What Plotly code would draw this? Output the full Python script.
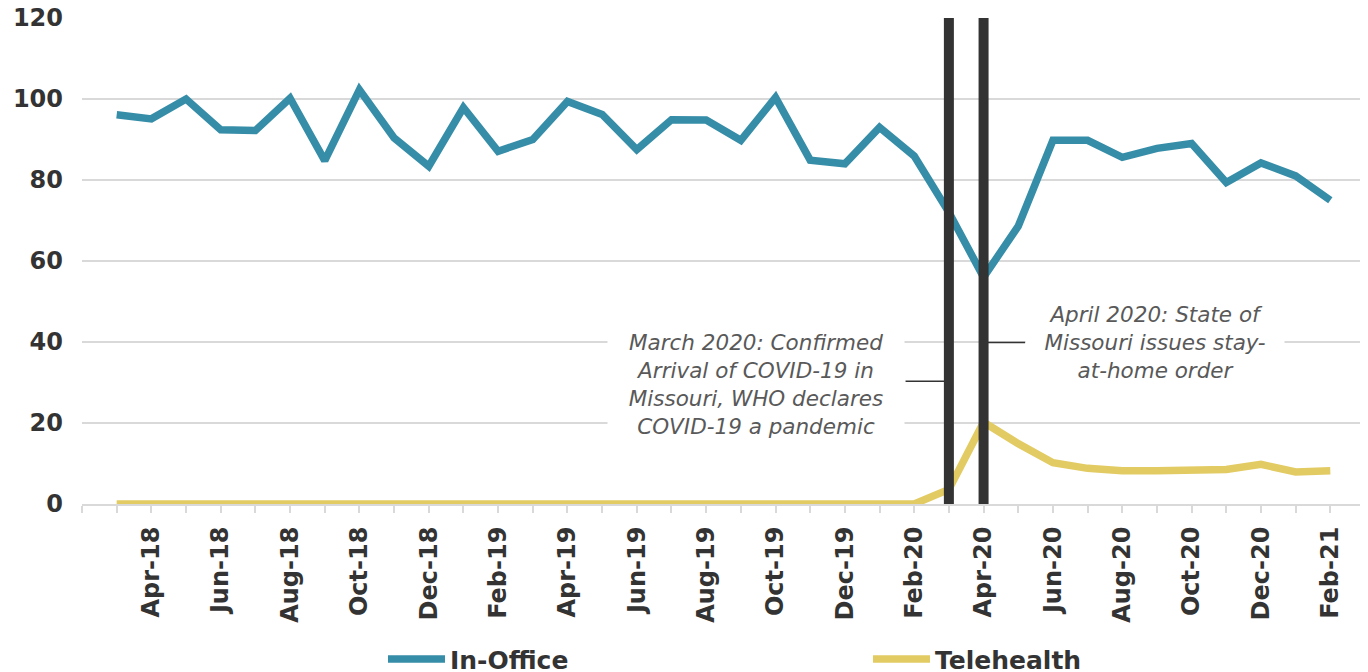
import plotly.graph_objects as go

# Monthly visits, Mar-18 .. Feb-21
months = ['Mar-18', 'Apr-18', 'May-18', 'Jun-18', 'Jul-18', 'Aug-18', 'Sep-18', 'Oct-18',
          'Nov-18', 'Dec-18', 'Jan-19', 'Feb-19', 'Mar-19', 'Apr-19', 'May-19', 'Jun-19',
          'Jul-19', 'Aug-19', 'Sep-19', 'Oct-19', 'Nov-19', 'Dec-19', 'Jan-20', 'Feb-20',
          'Mar-20', 'Apr-20', 'May-20', 'Jun-20', 'Jul-20', 'Aug-20', 'Sep-20', 'Oct-20',
          'Nov-20', 'Dec-20', 'Jan-21', 'Feb-21']

in_office = [96.1, 95.1, 100.0, 92.4, 92.2, 100.2, 84.8, 102.3, 90.4, 83.4, 97.9, 87.1,
             90.0, 99.4, 96.2, 87.5, 94.9, 94.8, 89.8, 100.4, 84.9, 84.0, 93.0, 85.9,
             72.0, 56.0, 68.6, 89.8, 89.8, 85.6, 87.8, 89.0, 79.4, 84.2, 81.0, 75.0]

telehealth = [0] * 24 + [3.6, 20.2, 14.9, 10.2, 8.8, 8.2, 8.2, 8.2, 8.5, 9.8, 7.9, 8.2]

events = ['Mar-20', 'Apr-20']
event_notes = ['March 2020: Confirmed<br>Arrival of COVID-19 in<br>Missouri, WHO declares<br>COVID-19 a pandemic',
               'April 2020: State of<br>Missouri issues stay-<br>at-home order']

y_ticks = [0, 20, 40, 60, 80, 100, 120]

BLUE = '#368DA8'
GOLD = '#E3CB63'
FONT = 'DejaVu Sans'

x = list(range(len(months)))

fig = go.Figure()
fig.add_trace(go.Scatter(x=x, y=in_office, mode='lines', name='In-Office',
                         line=dict(color=BLUE, width=7.5)))
fig.add_trace(go.Scatter(x=x, y=telehealth, mode='lines', name='Telehealth',
                         line=dict(color=GOLD, width=7.5)))

# ticks on every month, labels on every other one
tick_vals = [-1] + x + [len(months)]
tick_text = [''] + [m if i % 2 == 1 else '' for i, m in enumerate(months)] + ['']

# event bars
for ev in events:
    i = months.index(ev)
    fig.add_shape(type='line', x0=i, x1=i, y0=0, y1=120, xref='x', yref='y',
                  line=dict(color='#333333', width=10), layer='above')

# notes with short connectors
i_mar = months.index(events[0])
i_apr = months.index(events[1])
fig.add_shape(type='line', x0=i_mar - 1.25, x1=i_mar - 0.1, y0=30.3, y1=30.3,
              line=dict(color='#333333', width=1.5), layer='above')
fig.add_shape(type='line', x0=i_apr + 0.1, x1=i_apr + 1.2, y0=39.9, y1=39.9,
              line=dict(color='#333333', width=1.5), layer='above')

fig.add_annotation(x=i_mar - 5.57, y=29.6, text=event_notes[0], showarrow=False,
                   font=dict(family=FONT, size=21.5, color='#595959', style='italic'),
                   align='center', bgcolor='white', width=296, borderpad=0)
fig.add_annotation(x=i_apr + 4.94, y=39.9, text=event_notes[1], showarrow=False,
                   font=dict(family=FONT, size=21.5, color='#595959', style='italic'),
                   align='center', bgcolor='white', width=258, borderpad=0)

# page has an 8px body margin, so the figure is 8px smaller than the window
fig.update_layout(
    width=1360, height=664,
    margin=dict(l=74, r=3, t=10, b=168, autoexpand=False),
    plot_bgcolor='white', paper_bgcolor='white',
    font=dict(family=FONT, color='#333333'),
    showlegend=True,
    legend=dict(orientation='h', x=0.2346, xanchor='left', y=-0.272, yanchor='top',
                font=dict(family=FONT, size=25, color='#333333', weight='bold'),
                entrywidth=413, entrywidthmode='pixels', itemwidth=57),
    xaxis=dict(range=[-1, len(months)], tickmode='array', tickvals=tick_vals, ticktext=tick_text,
               tickangle=-90, ticks='outside', ticklen=7, tickwidth=1.5, tickcolor='#D9D9D9',
               showgrid=False, showline=True, linecolor='#D9D9D9', linewidth=2,
               zeroline=False, ticklabelstandoff=4,
               tickfont=dict(family=FONT, size=24, color='#333333', weight='bold')),
    yaxis=dict(range=[0, 120], tickmode='array', tickvals=y_ticks,
               showgrid=True, gridcolor='#D9D9D9', gridwidth=2, zeroline=False,
               ticks='', ticklabelstandoff=18, ticklabeloverflow='allow',
               tickfont=dict(family=FONT, size=24, color='#333333', weight='bold')),
)

fig.write_html("out.html")
